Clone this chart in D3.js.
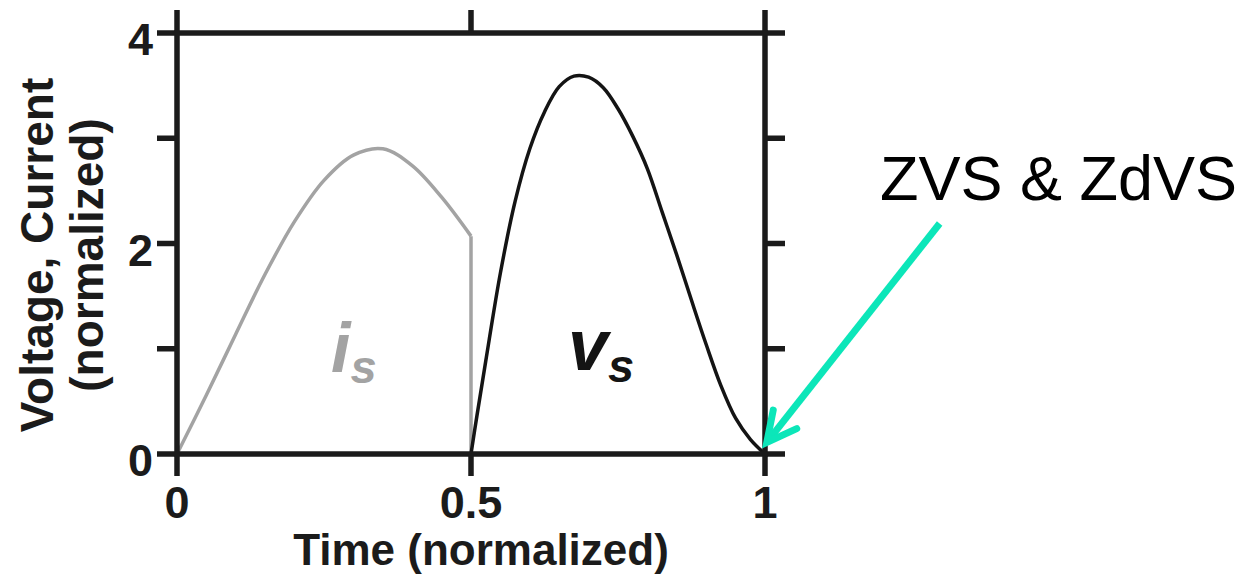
<!DOCTYPE html>
<html>
<head>
<meta charset="utf-8">
<script src="https://cdn.jsdelivr.net/npm/d3@7"></script>
<style>
  body { margin: 0; background: #fff; }
  svg { display: block; }
  text { font-family: "Liberation Sans", Arial, sans-serif; }
</style>
</head>
<body>
<div id="chart"></div>
<script>
// switch current i_s (grey), on-state part then drop
var isTime = [0, 0.05, 0.1, 0.15, 0.2, 0.25, 0.3, 0.35, 0.4, 0.45, 0.5]
var isValue = [0, 0.56, 1.14, 1.71, 2.21, 2.6, 2.84, 2.9, 2.74, 2.44, 2.07]

// switch voltage v_s (black), off-state part
var vsTime = [0.5, 0.51, 0.525, 0.55, 0.575, 0.6, 0.625, 0.65, 0.675, 0.7, 0.725, 0.75, 0.775, 0.8, 0.825, 0.85, 0.875, 0.9, 0.925, 0.95, 0.975, 1.0]
var vsValue = [0, 0.36, 0.88, 1.72, 2.4, 2.9, 3.25, 3.49, 3.59, 3.58, 3.48, 3.28, 3.02, 2.71, 2.3, 1.89, 1.46, 1.04, 0.65, 0.34, 0.14, 0]

var xTicks = [0, 0.5, 1]
var xTickLabels = ["0", "0.5", "1"]
var yTicks = [0, 1, 2, 3, 4]
var yTickLabels = ["0", "", "2", "", "4"]

var xTitle = "Time (normalized)"
var yTitle = ["Voltage, Current", "(normalized)"]
var note = "ZVS & ZdVS"

var width = 1247, height = 574

var x = d3.scaleLinear().domain([0, 1]).range([177, 765])
var y = d3.scaleLinear().domain([0, 4]).range([454, 33])

var svg = d3.select("#chart").append("svg")
    .attr("width", width)
    .attr("height", height)

var axisColor = "#1b1b1b"

// curves
var isPts = isTime.map((t, i) => [t, isValue[i]])
var vsPts = vsTime.map((t, i) => [t, vsValue[i]])

var curve = d3.line()
    .x(d => x(d[0]))
    .y(d => y(d[1]))
    .curve(d3.curveCatmullRom.alpha(0.5))

var straight = d3.line()
    .x(d => x(d[0]))
    .y(d => y(d[1]))

svg.append("path")
    .attr("d", curve(isPts))
    .attr("fill", "none")
    .attr("stroke", "#a3a3a3")
    .attr("stroke-width", 3.5)

var last = isPts[isPts.length - 1]
svg.append("path")
    .attr("d", straight([last, [last[0], 0], [1, 0]]))
    .attr("fill", "none")
    .attr("stroke", "#a3a3a3")
    .attr("stroke-width", 3.5)

svg.append("path")
    .attr("d", curve(vsPts))
    .attr("fill", "none")
    .attr("stroke", "#141414")
    .attr("stroke-width", 3.5)

// frame
var frame = svg.append("g")
frame.append("rect")
    .attr("x", x(0))
    .attr("y", y(4))
    .attr("width", x(1) - x(0))
    .attr("height", y(0) - y(4))
    .attr("fill", "none")
    .attr("stroke", axisColor)
    .attr("stroke-width", 5.5)

// y ticks, both sides, outward
frame.selectAll("line.yl")
    .data(yTicks)
    .enter()
    .append("line")
        .attr("x1", x(0) - 20)
        .attr("x2", x(0))
        .attr("y1", d => y(d))
        .attr("y2", d => y(d))
        .attr("stroke", axisColor)
        .attr("stroke-width", 5.5)

frame.selectAll("line.yr")
    .data(yTicks)
    .enter()
    .append("line")
        .attr("x1", x(1))
        .attr("x2", x(1) + 20)
        .attr("y1", d => y(d))
        .attr("y2", d => y(d))
        .attr("stroke", axisColor)
        .attr("stroke-width", 5.5)

// x ticks, top and bottom, outward
frame.selectAll("line.xb")
    .data(xTicks)
    .enter()
    .append("line")
        .attr("x1", d => x(d))
        .attr("x2", d => x(d))
        .attr("y1", y(0))
        .attr("y2", y(0) + 22)
        .attr("stroke", axisColor)
        .attr("stroke-width", 5.5)

frame.selectAll("line.xt")
    .data(xTicks)
    .enter()
    .append("line")
        .attr("x1", d => x(d))
        .attr("x2", d => x(d))
        .attr("y1", y(4) - 23)
        .attr("y2", y(4))
        .attr("stroke", axisColor)
        .attr("stroke-width", 5.5)

// tick labels
svg.selectAll("text.ylab")
    .data(yTicks)
    .enter()
    .append("text")
        .attr("x", x(0) - 24)
        .attr("y", d => y(d) + 22)
        .attr("text-anchor", "end")
        .style("font-size", "45px")
        .style("font-weight", "bold")
        .attr("fill", axisColor)
        .text((d, i) => yTickLabels[i])

svg.selectAll("text.xlab")
    .data(xTicks)
    .enter()
    .append("text")
        .attr("x", d => x(d))
        .attr("y", 518)
        .attr("text-anchor", "middle")
        .style("font-size", "45px")
        .style("font-weight", "bold")
        .attr("fill", axisColor)
        .text((d, i) => xTickLabels[i])

// axis titles
svg.append("text")
    .attr("x", 481)
    .attr("y", 565)
    .attr("text-anchor", "middle")
    .style("font-size", "44px")
    .style("font-weight", "bold")
    .attr("fill", axisColor)
    .text(xTitle)

svg.selectAll("text.ytitle")
    .data(yTitle)
    .enter()
    .append("text")
        .attr("transform", (d, i) => "translate(" + (53 + i * 50) + ",255) rotate(-90)")
        .attr("text-anchor", "middle")
        .style("font-size", "46px")
        .style("font-weight", "bold")
        .attr("fill", axisColor)
        .text(d => d)

// series labels
var isLab = svg.append("text")
    .attr("x", 331)
    .attr("y", 372)
    .style("font-weight", "bold")
    .style("font-style", "italic")
    .attr("fill", "#a3a3a3")
isLab.append("tspan").style("font-size", "70px").text("i")
isLab.append("tspan").style("font-size", "47px").attr("dy", 11).text("s")

var vsLab = svg.append("text")
    .attr("x", 568)
    .attr("y", 370)
    .style("font-weight", "bold")
    .style("font-style", "italic")
    .attr("fill", "#141414")
vsLab.append("tspan").style("font-size", "72px").text("v")
vsLab.append("tspan").style("font-size", "47px").attr("dy", 12).text("s")

// annotation
svg.append("text")
    .attr("x", 880)
    .attr("y", 200)
    .style("font-size", "63px")
    .attr("fill", "#000")
    .text(note)

var arrowColor = "#0ce6b9"
var tip = [1.003, 0.11], tail = [1.297, 2.19]
var tx = x(tip[0]), ty = y(tip[1])
var ang = Math.atan2(y(tail[1]) - ty, x(tail[0]) - tx)
var barb = 33, spread = 27 * Math.PI / 180

svg.append("line")
    .attr("x1", x(tail[0]))
    .attr("y1", y(tail[1]))
    .attr("x2", tx)
    .attr("y2", ty)
    .attr("stroke", arrowColor)
    .attr("stroke-width", 7)

svg.append("path")
    .attr("d", "M" + (tx + barb * Math.cos(ang - spread)) + "," + (ty + barb * Math.sin(ang - spread)) +
        "L" + tx + "," + ty +
        "L" + (tx + barb * Math.cos(ang + spread)) + "," + (ty + barb * Math.sin(ang + spread)))
    .attr("fill", "none")
    .attr("stroke", arrowColor)
    .attr("stroke-width", 7)
    .attr("stroke-linecap", "round")
    .attr("stroke-linejoin", "miter")
</script>
</body>
</html>
